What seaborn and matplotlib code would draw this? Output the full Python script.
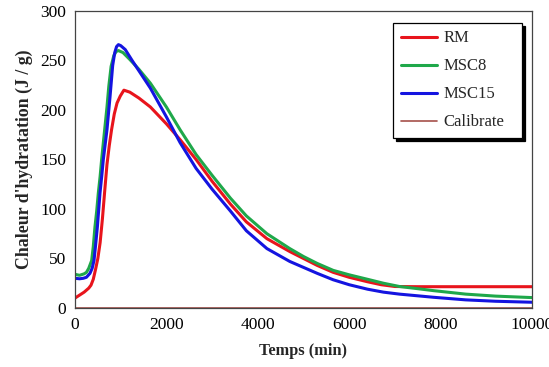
import pandas as pd
import matplotlib.pyplot as plt
import seaborn as sns
from matplotlib.ticker import MultipleLocator

# values
rm_t = [0, 100, 200, 300, 350, 400, 450, 500, 550, 600, 650, 700, 750, 800, 860, 920, 990, 1070,
        1200, 1400, 1650, 2000, 2300, 2650, 3000, 3400, 3750, 4200, 4700, 5000, 5300, 5650, 6000,
        6400, 6700, 7000, 7500, 8000, 9000, 10000]
rm_q = [10, 13, 16, 20, 23, 29, 39, 50, 66, 90, 118, 145, 164, 180, 196, 207, 214, 220,
        218, 212, 203, 186, 170, 150, 128, 105, 87, 70, 57, 50, 43, 36, 31,
        26.5, 23.5, 21.7, 21.5, 21.5, 21.5, 21.5]

msc8_t = [0, 100, 200, 250, 300, 365, 400, 437, 475, 510, 550, 583, 620, 660, 700, 740, 790, 850,
          900, 950, 1050, 1200, 1400, 1650, 2000, 2300, 2650, 3000, 3400, 3750, 4200, 4700, 5000,
          5300, 5650, 6000, 6400, 6750, 7100, 7500, 7850, 8550, 9200, 10000]
msc8_q = [34, 33, 34.5, 36, 40, 48, 62, 82, 98, 116, 133, 150, 167, 185, 203, 224, 244, 255,
          259, 260, 258, 251, 241, 227, 203, 180, 155, 134, 111, 93, 75, 60, 52,
          45, 38, 33.5, 29, 25, 21.7, 19.5, 17.5, 14, 12, 10.5]

msc15_t = [0, 100, 182, 250, 328, 375, 416, 450, 490, 547, 585, 620, 660, 700, 766, 825, 870, 910,
           950, 1000, 1100, 1250, 1450, 1650, 2000, 2300, 2650, 3000, 3400, 3750, 4200, 4700, 5000,
           5300, 5650, 6000, 6400, 6750, 7100, 7500, 7850, 8550, 9200, 10000]
msc15_q = [30, 29.5, 30, 31, 35, 40, 48, 63, 82, 116, 133, 150, 165, 180, 213, 245, 258, 264,
           266, 265, 261, 250, 236, 222, 193, 167, 141, 120, 98, 78, 60, 47, 41,
           35, 28.5, 23.5, 19, 16, 14, 12.3, 10.8, 8.2, 6.8, 5.8]

cal_t = [0, 10000]
cal_q = [0, 0]

series = [
    ('RM', rm_t, rm_q, '#e8141c', 2.2),
    ('MSC8', msc8_t, msc8_q, '#1fa84a', 2.2),
    ('MSC15', msc15_t, msc15_q, '#1414e0', 2.2),
    ('Calibrate', cal_t, cal_q, '#a5504a', 1.2),
]

sns.set_style('white')
plt.rcParams['font.family'] = ['Liberation Serif', 'DejaVu Serif']

fig = plt.figure(figsize=(5.49, 3.67), dpi=100)
ax = fig.add_axes([0.1366, 0.1608, 0.8324, 0.8093])

for name, t, q, col, lw in series:
    df = pd.DataFrame({'Temps': t, 'Chaleur': q})
    sns.lineplot(data=df, x='Temps', y='Chaleur', color=col, linewidth=lw, label=name, ax=ax)

ax.set_xlim(0, 10000)
ax.set_ylim(0, 300)
ax.xaxis.set_major_locator(MultipleLocator(2000))
ax.xaxis.set_minor_locator(MultipleLocator(500))
ax.yaxis.set_major_locator(MultipleLocator(50))
ax.yaxis.set_minor_locator(MultipleLocator(10))
ax.tick_params(which='major', direction='inout', length=6, width=0.8, labelsize=12.5, colors='#222222')
ax.tick_params(which='minor', direction='in', length=3, width=0.8, colors='#222222')
ax.tick_params(axis='both', labelcolor='black')
for s in ax.spines.values():
    s.set_color('#444444')
    s.set_linewidth(0.9)

ax.set_xlabel('Temps (min)', fontsize=11.8, fontweight='bold', labelpad=7)
ax.set_ylabel("Chaleur d'hydratation (J / g)", fontsize=12.8, fontweight='bold', labelpad=5)

leg = ax.legend(loc='upper left', bbox_to_anchor=(0.696, 0.5, 0.282, 0.46), mode='expand',
                borderaxespad=0, fontsize=12,
                frameon=True, fancybox=False, shadow={'color': 'black', 'alpha': 1},
                edgecolor='black', handlelength=2.2, handletextpad=0.35,
                labelspacing=0.72, borderpad=0.45, framealpha=1)
leg.get_frame().set_linewidth(0.9)

fig.savefig('out.png', dpi=100)
